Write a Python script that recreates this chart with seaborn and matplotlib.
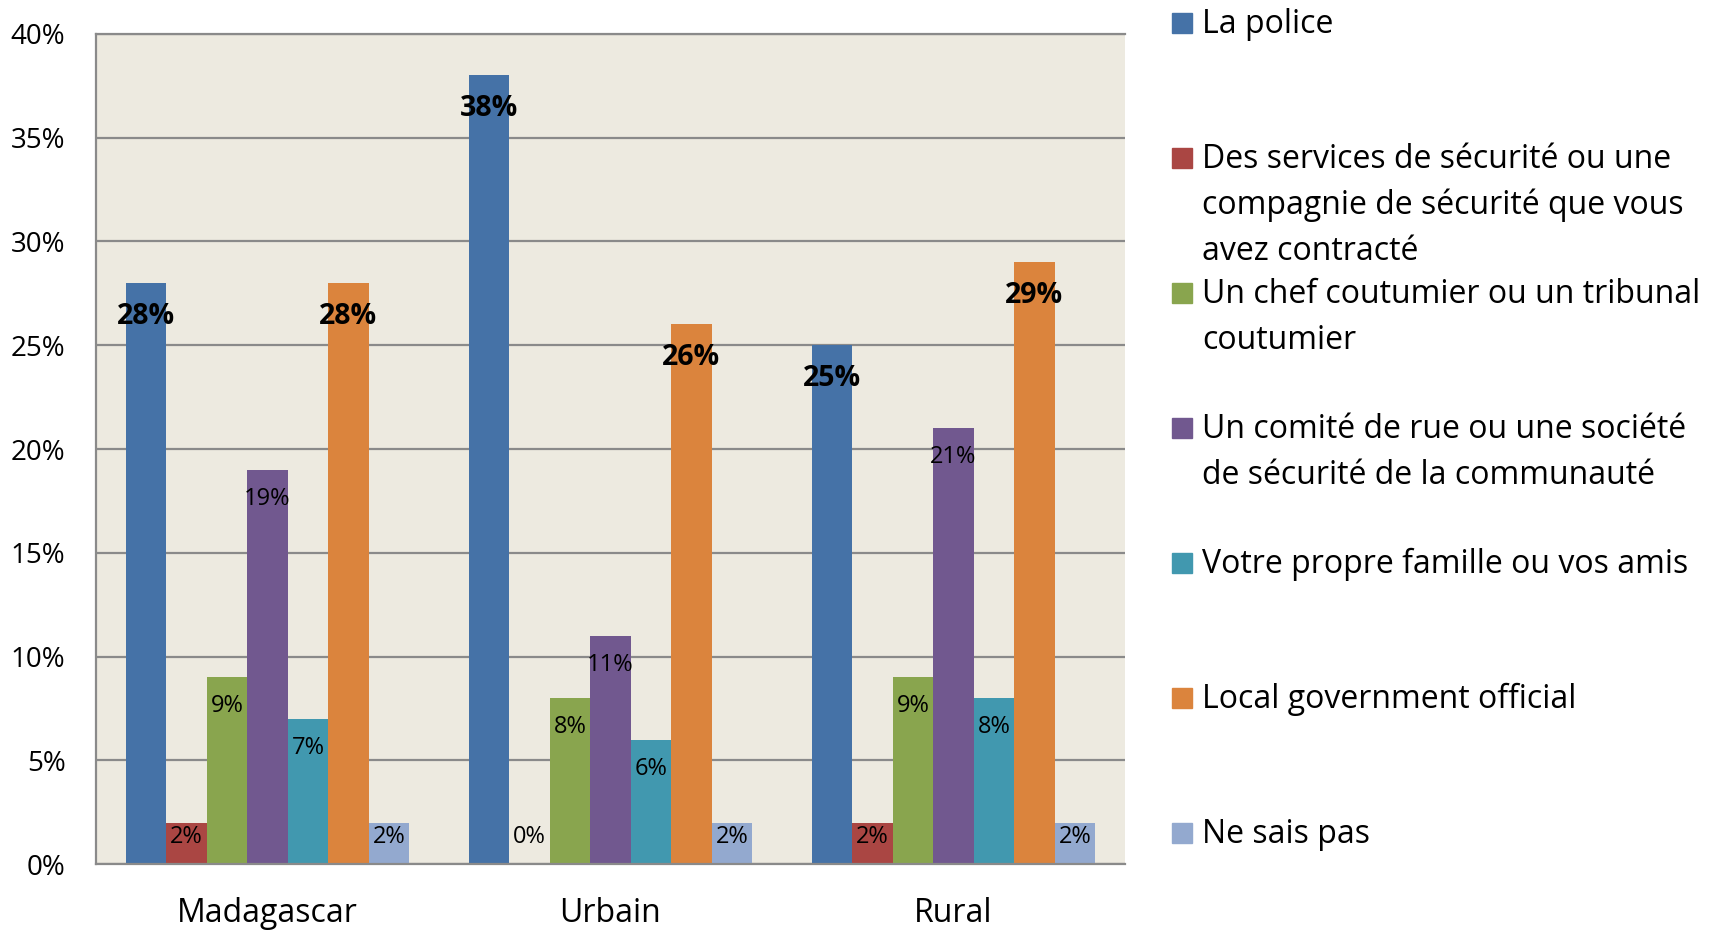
import pandas as pd
import matplotlib.pyplot as plt
import seaborn as sns
from matplotlib.patches import Rectangle

# categories and series
groups = ['Madagascar', 'Urbain', 'Rural']
series = ['La police',
          'Des services de sécurité ou une\ncompagnie de sécurité que vous\navez contracté',
          'Un chef coutumier ou un tribunal\ncoutumier',
          'Un comité de rue ou une société\nde sécurité de la communauté',
          'Votre propre famille ou vos amis',
          'Local government official',
          'Ne sais pas']
police = [28, 38, 25]
services = [2, 0, 2]
chef = [9, 8, 9]
comite = [19, 11, 21]
famille = [7, 6, 8]
local_gov = [28, 26, 29]
ne_sais = [2, 2, 2]
bold_series = [0, 5]

colors = ['#4572A7', '#AA4643', '#89A54E', '#71588F', '#4198AF', '#DB843D', '#93A9CF']

values = [police, services, chef, comite, famille, local_gov, ne_sais]
rows = []
for s, vals in zip(series, values):
    for g, v in zip(groups, vals):
        rows.append({'groupe': g, 'serie': s, 'valeur': v})
df = pd.DataFrame(rows)

sns.set_theme(style="white")
plt.rcParams['font.family'] = ['Open Sans', 'DejaVu Sans']

W, H = 1713, 930
fig = plt.figure(figsize=(W / 100, H / 100), dpi=100)
ax = fig.add_axes([96 / W, 1 - 864 / H, (1125 - 96) / W, (864 - 34) / H])
ax.set_facecolor('#EDEAE0')

sns.barplot(data=df, x='groupe', y='valeur', hue='serie', hue_order=series,
            palette=colors, width=0.825, gap=0, saturation=1, legend=False,
            edgecolor='none', ax=ax, zorder=2)

ax.set_ylim(0, 40)
ax.set_xlim(-0.5, 2.5)
ax.set_yticks(range(0, 41, 5))
ax.set_yticklabels([f'{t}%' for t in range(0, 41, 5)])
ax.set_xlabel('')
ax.set_ylabel('')
ax.grid(axis='y', color='#8A8A8A', linewidth=1.6, zorder=0)
ax.set_axisbelow(True)
ax.tick_params(axis='y', length=0, pad=22, labelsize=20, colors='black')
ax.tick_params(axis='x', length=0, pad=24, labelsize=23, colors='black')
for side in ['left', 'bottom', 'top']:
    ax.spines[side].set_color('#8A8A8A')
    ax.spines[side].set_linewidth(1.6)
ax.spines['right'].set_visible(False)

# data labels inside the top of each bar
for i, cont in enumerate(ax.containers):
    bold = i in bold_series
    for bar in cont:
        v = bar.get_height()
        off = 1.6 if bold else 1.4
        y = max(v - off, 1.3)
        ax.text(bar.get_x() + bar.get_width() / 2, y, f'{v:.0f}%',
                ha='center', va='center', color='black',
                fontsize=20.5 if bold else 17,
                fontweight='bold' if bold else 'normal', zorder=3)

# legend on the right, one text per line so the square sits on the first line
for i, (s, c) in enumerate(zip(series, colors)):
    top = 13 + 135 * i
    fig.add_artist(Rectangle((1172 / W, 1 - (top + 20) / H), 20 / W, 20 / H,
                             transform=fig.transFigure, color=c))
    for k, line in enumerate(s.split('\n')):
        fig.text(1202 / W, 1 - (top + 20 + 46 * k) / H, line, ha='left',
                 va='baseline', fontsize=23, color='black')

fig.savefig('out.png', dpi=100)
